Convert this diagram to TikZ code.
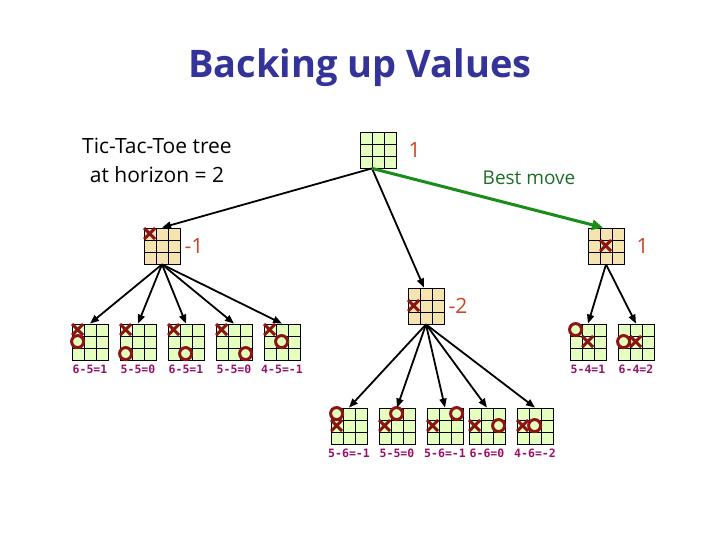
\documentclass[tikz,border=0pt]{standalone}
\usepackage{fontspec}
\setmainfont{Open Sans}
\newfontfamily\scorefont{DejaVu Sans Mono}
\usetikzlibrary{positioning, calc, arrows.meta}
\definecolor{cTitle}{RGB}{51,51,153}
\definecolor{cVal}{RGB}{204,68,34}
\definecolor{cScore}{RGB}{153,17,102}
\definecolor{cMark}{RGB}{140,20,20}
\definecolor{cGreen}{RGB}{229,255,191}
\definecolor{cTan}{RGB}{245,228,176}
\definecolor{cBest}{RGB}{25,140,25}
\definecolor{cBestText}{RGB}{30,110,40}

\tikzset{
  board/.style={draw, line width=0.8pt, fill=#1, minimum size=36pt, inner sep=0pt,
    path picture={
      \draw[line width=0.8pt]
        ($(path picture bounding box.north west)!1/3!(path picture bounding box.north east)$) -- ($(path picture bounding box.south west)!1/3!(path picture bounding box.south east)$)
        ($(path picture bounding box.north west)!2/3!(path picture bounding box.north east)$) -- ($(path picture bounding box.south west)!2/3!(path picture bounding box.south east)$)
        ($(path picture bounding box.north west)!1/3!(path picture bounding box.south west)$) -- ($(path picture bounding box.north east)!1/3!(path picture bounding box.south east)$)
        ($(path picture bounding box.north west)!2/3!(path picture bounding box.south west)$) -- ($(path picture bounding box.north east)!2/3!(path picture bounding box.south east)$);
    }},
  xo/.style={cMark, line width=3pt},
  val/.style={text=cVal, font=\fontsize{21}{25}\selectfont, inner sep=0pt},
  score/.style={text=cScore, font=\scorefont\bfseries\fontsize{11.5}{13}\selectfont, inner sep=0pt, label distance=4.5pt},
  move/.style={-{Triangle[length=9pt,width=7pt]}, line width=1.8pt},
  best/.style={-{Triangle[length=11pt,width=10pt]}, line width=3pt, cBest}
}

% X or O in cell (column, row) of a board
\newcommand{\putX}[3]{\draw[xo] ($(#1.north west)+(6+12*#2,-6-12*#3)$) +(-5.5,-5.5) -- +(5.5,5.5) +(-5.5,5.5) -- +(5.5,-5.5);}
\newcommand{\putO}[3]{\draw[xo] ($(#1.north west)+(6+12*#2,-6-12*#3)$) circle (6pt);}

\begin{document}
\begin{tikzpicture}[x=1pt, y=1pt, on grid]
    \useasboundingbox (0,0) rectangle (720,540);

    \node[text=cTitle, font=\bfseries\fontsize{38}{46}\selectfont] (title) at (360,472) {Backing up Values};
    \node[align=center, font=\fontsize{21}{29}\selectfont] (desc) at (157,380) {Tic-Tac-Toe tree\\at horizon = 2};

    \node[board=cGreen, label={[val, label distance=12pt]right:1}] (T) at (378,390) {};
    \node[board=cTan, label={[val, label distance=4pt]right:{-1}}] (L1) [below left=96pt and 216pt of T] {};
    \node[board=cTan, label={[val, label distance=12pt]right:1}] (R1) [below right=96pt and 228pt of T] {};
    \node[board=cTan, label={[val, label distance=4pt]right:{-2}}] (B) [below right=156pt and 48pt of T] {};

    \node[board=cGreen, label={[score]below:{6-5=1}}] (L1a) [below left=96pt and 72pt of L1] {};
    \node[board=cGreen, label={[score]below:{5-5=0}}] (L1b) [right=48pt of L1a] {};
    \node[board=cGreen, label={[score]below:{6-5=1}}] (L1c) [right=48pt of L1b] {};
    \node[board=cGreen, label={[score]below:{5-5=0}}] (L1d) [right=48pt of L1c] {};
    \node[board=cGreen, label={[score]below:{4-5=-1}}] (L1e) [right=48pt of L1d] {};

    \node[board=cGreen, label={[score]below:{5-4=1}}] (R1a) [below left=96pt and 18pt of R1] {};
    \node[board=cGreen, label={[score]below:{6-4=2}}] (R1b) [right=48pt of R1a] {};

    \node[board=cGreen, label={[score]below:{5-6=-1}}] (Ba) [below left=120pt and 77pt of B] {};
    \node[board=cGreen, label={[score]below:{5-5=0}}] (Bb) [right=48pt of Ba] {};
    \node[board=cGreen, label={[score]below:{5-6=-1}}] (Bc) [right=48pt of Bb] {};
    \node[board=cGreen, label={[score]below:{6-6=0}}] (Bd) [right=42pt of Bc] {};
    \node[board=cGreen, label={[score]below:{4-6=-2}}] (Be) [right=48pt of Bd] {};

    \node[text=cBestText, font=\fontsize{19}{23}\selectfont] (bestlbl) at (529,362) {Best move};

    % marks
    \putX{L1}{0}{0} \putX{R1}{1}{1} \putX{B}{0}{1}
    \putX{L1a}{0}{0} \putO{L1a}{0}{1}
    \putX{L1b}{0}{0} \putO{L1b}{0}{2}
    \putX{L1c}{0}{0} \putO{L1c}{1}{2}
    \putX{L1d}{0}{0} \putO{L1d}{2}{2}
    \putX{L1e}{0}{0} \putO{L1e}{1}{1}
    \putO{R1a}{0}{0} \putX{R1a}{1}{1}
    \putO{R1b}{0}{1} \putX{R1b}{1}{1}
    \putO{Ba}{0}{0} \putX{Ba}{0}{1}
    \putX{Bb}{0}{1} \putO{Bb}{1}{0}
    \putX{Bc}{0}{1} \putO{Bc}{2}{0}
    \putX{Bd}{0}{1} \putO{Bd}{2}{1}
    \putX{Be}{0}{1} \putO{Be}{1}{1}

    \coordinate (Tout) at ([xshift=-6pt]T.south);
    \draw[move] (Tout) -- (L1.north);
    \draw[move] (Tout) -- ([xshift=-2pt]B.north);
    \draw[best] (Tout) -- ([xshift=-3pt]R1.north);

    \draw[move] (L1.south) -- (L1a.north);
    \draw[move] (L1.south) -- (L1b.north);
    \draw[move] (L1.south) -- (L1c.north);
    \draw[move] (L1.south) -- (L1d.north);
    \draw[move] (L1.south) -- (L1e.north);
    \draw[move] (R1.south) -- (R1a.north);
    \draw[move] (R1.south) -- (R1b.north);
    \draw[move] (B.south) -- (Ba.north);
    \draw[move] (B.south) -- (Bb.north);
    \draw[move] (B.south) -- (Bc.north);
    \draw[move] (B.south) -- (Bd.north);
    \draw[move] (B.south) -- (Be.north);
\end{tikzpicture}
\end{document}
